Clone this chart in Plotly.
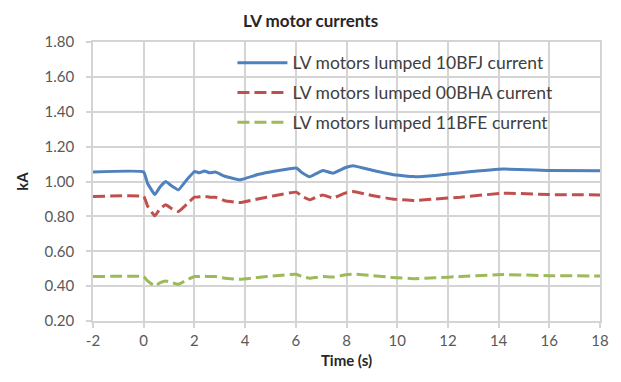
import plotly.graph_objects as go

# Time axis (s) and lumped LV motor currents (kA)
time_s = [-2, 0, 0.15, 0.44, 0.65, 0.87, 1.1, 1.37, 1.7, 2.0, 2.2, 2.4, 2.6, 2.83,
          3.2, 3.81, 4.5, 5.2, 6.02, 6.25, 6.55, 6.8, 7.07, 7.46, 7.97, 8.26,
          9.0, 9.8, 10.67, 11.5, 12.5, 14.2, 16, 18]

current_10bfj = [1.055, 1.055, 0.99, 0.925, 0.97, 1.0, 0.975, 0.952, 1.01, 1.057,
                 1.05, 1.06, 1.05, 1.054, 1.03, 1.01, 1.04, 1.06, 1.077, 1.05,
                 1.027, 1.045, 1.063, 1.048, 1.08, 1.09, 1.065, 1.04, 1.028,
                 1.035, 1.05, 1.071, 1.063, 1.061]

current_00bha = [0.914, 0.914, 0.86, 0.803, 0.845, 0.866, 0.845, 0.828, 0.87, 0.91,
                 0.912, 0.915, 0.91, 0.91, 0.89, 0.879, 0.9, 0.92, 0.939, 0.915,
                 0.895, 0.91, 0.923, 0.905, 0.935, 0.942, 0.92, 0.9, 0.891, 0.9,
                 0.91, 0.933, 0.925, 0.923]

current_11bfe = [0.4545, 0.4545, 0.43, 0.401, 0.42, 0.43, 0.42, 0.411, 0.435, 0.455,
                 0.455, 0.456, 0.455, 0.455, 0.445, 0.439, 0.45, 0.46, 0.468, 0.455,
                 0.445, 0.45, 0.455, 0.452, 0.465, 0.469, 0.46, 0.45, 0.443, 0.448,
                 0.455, 0.466, 0.46, 0.458]

x_ticks = [-2, 0, 2, 4, 6, 8, 10, 12, 14, 16, 18]
x_tick_labels = ["-2", "0", "2", "4", "6", "8", "10", "12", "14", "16", "18"]

series_names = ["LV motors lumped 10BFJ current",
                "LV motors lumped 00BHA current",
                "LV motors lumped 11BFE current"]
series_values = [current_10bfj, current_00bha, current_11bfe]
series_colors = ["#4F81BD", "#C0504D", "#9BBB59"]
series_dash = ["solid", "12px,5px", "12px,5px"]

FONT = "Lato"
GRID = "#D4D4D4"

fig = go.Figure()
for name, vals, col, dash in zip(series_names, series_values, series_colors, series_dash):
    fig.add_trace(go.Scatter(
        x=time_s, y=vals, mode="lines", name=name, legendgroup=name,
        line=dict(color=col, width=3, dash=dash, shape="spline", smoothing=0.3),
    ))

# white panel behind the legend, hiding the grid there
fig.add_shape(type="rect", xref="paper", yref="paper",
              x0=0.196, x1=0.994, y0=0.675, y1=0.995,
              fillcolor="white", line_width=0, layer="between")

fig.update_layout(
    width=621, height=382,
    margin=dict(l=93, r=13, t=42, b=61),
    paper_bgcolor="white", plot_bgcolor="white",
    font=dict(family=FONT, color="#595959", size=15),
    title=dict(text="<b>LV motor currents</b>", x=0.5, xanchor="center",
               y=0.945, yanchor="middle",
               font=dict(family=FONT, size=17, color="#262626")),
    showlegend=True,
    legend=dict(x=0.275, y=0.99, xanchor="left", yanchor="top",
                bgcolor="rgba(255,255,255,0)", borderwidth=0,
                font=dict(family=FONT, size=17.5, color="#404040"),
                tracegroupgap=4, itemwidth=50),
)

fig.update_xaxes(
    range=[-2, 18], tickvals=x_ticks, ticktext=x_tick_labels,
    showgrid=True, gridcolor=GRID, gridwidth=1.5,
    showline=True, linecolor=GRID, linewidth=1.5, mirror=True,
    ticks="outside", ticklen=5, tickcolor=GRID, tickwidth=1.5,
    zeroline=False,
    tickfont=dict(family=FONT, size=15, color="#595959"),
    title=dict(text="<b>Time (s)</b>", standoff=8,
               font=dict(family=FONT, size=15, color="#262626")),
)
fig.update_yaxes(
    range=[0.2, 1.8], dtick=0.2, tick0=0.2, tickformat=".2f",
    showgrid=True, gridcolor=GRID, gridwidth=1.5,
    showline=True, linecolor=GRID, linewidth=1.5, mirror=True,
    ticks="outside", ticklen=5, tickcolor=GRID, tickwidth=1.5,
    zeroline=False, ticklabelstandoff=9,
    tickfont=dict(family=FONT, size=15, color="#595959"),
    title=dict(text="<b>kA</b>", standoff=12,
               font=dict(family=FONT, size=15, color="#262626")),
)

fig.write_html("out.html")
